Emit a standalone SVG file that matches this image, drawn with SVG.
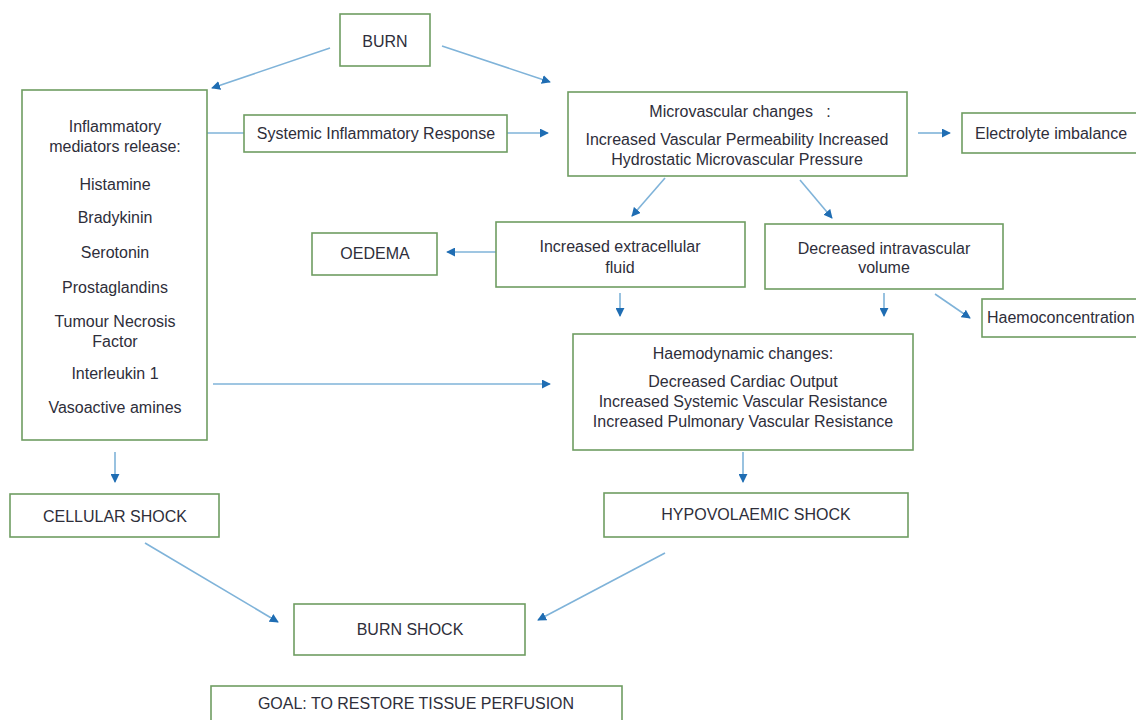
<svg xmlns="http://www.w3.org/2000/svg" width="1136" height="720" viewBox="0 0 1136 720">
<style>
.b{fill:#fff;stroke:#6f9d62;stroke-width:1.6}
.t{font-family:"Liberation Sans",Arial,sans-serif;font-size:16px;fill:#2e2e3a;text-anchor:middle}
.s{text-anchor:start}
.c line{stroke:#7fb3d9;stroke-width:1.6}
</style>
<defs>
<marker id="a" viewBox="0 0 10 10" refX="9" refY="5" markerWidth="9" markerHeight="9" markerUnits="userSpaceOnUse" orient="auto">
<path d="M0,0 L10,5 L0,10 z" fill="#1f6db3"/>
</marker>
</defs>
<rect width="1136" height="720" fill="#fff"/>
<g class="c">
<line x1="330" y1="48" x2="212" y2="88" marker-end="url(#a)"/>
<line x1="442" y1="46" x2="550" y2="82" marker-end="url(#a)"/>
<line x1="207" y1="133" x2="244" y2="133"/>
<line x1="507" y1="133" x2="548" y2="133" marker-end="url(#a)"/>
<line x1="918" y1="133" x2="950" y2="133" marker-end="url(#a)"/>
<line x1="665" y1="178" x2="632" y2="216" marker-end="url(#a)"/>
<line x1="800" y1="180" x2="832" y2="218" marker-end="url(#a)"/>
<line x1="496" y1="252" x2="447" y2="252" marker-end="url(#a)"/>
<line x1="620" y1="293" x2="620" y2="316" marker-end="url(#a)"/>
<line x1="884" y1="293" x2="884" y2="316" marker-end="url(#a)"/>
<line x1="935" y1="294" x2="970" y2="318" marker-end="url(#a)"/>
<line x1="213" y1="384" x2="550" y2="384" marker-end="url(#a)"/>
<line x1="743" y1="452" x2="743" y2="482" marker-end="url(#a)"/>
<line x1="115" y1="452" x2="115" y2="482" marker-end="url(#a)"/>
<line x1="145" y1="543" x2="278" y2="622" marker-end="url(#a)"/>
<line x1="665" y1="553" x2="538" y2="620" marker-end="url(#a)"/>
</g>
<g id="burn"><rect class="b" x="340" y="14" width="90" height="52"/><text class="t" x="385" y="47">BURN</text></g>
<g id="inflammatory"><rect class="b" x="22" y="90" width="185" height="350"/>
<text class="t" x="115" y="132">Inflammatory</text>
<text class="t" x="115" y="152">mediators release:</text>
<text class="t" x="115" y="190">Histamine</text>
<text class="t" x="115" y="223">Bradykinin</text>
<text class="t" x="115" y="258">Serotonin</text>
<text class="t" x="115" y="293">Prostaglandins</text>
<text class="t" x="115" y="327">Tumour Necrosis</text>
<text class="t" x="115" y="347">Factor</text>
<text class="t" x="115" y="379">Interleukin 1</text>
<text class="t" x="115" y="413">Vasoactive amines</text>
</g>
<g id="sir"><rect class="b" x="244" y="115" width="263" height="37"/><text class="t" x="376" y="139">Systemic Inflammatory Response</text></g>
<g id="micro"><rect class="b" x="568" y="92" width="339" height="84"/>
<text class="t" x="740" y="117">Microvascular changes &#160;&#160;:</text>
<text class="t" x="737" y="145">Increased Vascular Permeability Increased</text>
<text class="t" x="737" y="165">Hydrostatic Microvascular Pressure</text>
</g>
<g id="electrolyte"><rect class="b" x="962" y="113" width="180" height="40"/><text class="t s" x="975" y="139">Electrolyte imbalance</text></g>
<g id="oedema"><rect class="b" x="312" y="233" width="125" height="42"/><text class="t" x="375" y="259">OEDEMA</text></g>
<g id="ief"><rect class="b" x="496" y="222" width="249" height="65"/>
<text class="t" x="620" y="252">Increased extracellular</text>
<text class="t" x="620" y="273">fluid</text>
</g>
<g id="div"><rect class="b" x="765" y="224" width="238" height="65"/>
<text class="t" x="884" y="254">Decreased intravascular</text>
<text class="t" x="884" y="273">volume</text>
</g>
<g id="haemoconc"><rect class="b" x="982" y="299" width="160" height="38"/><text class="t s" x="987" y="323">Haemoconcentration</text></g>
<g id="haemodynamic"><rect class="b" x="573" y="334" width="340" height="116"/>
<text class="t" x="743" y="359">Haemodynamic changes:</text>
<text class="t" x="743" y="387">Decreased Cardiac Output</text>
<text class="t" x="743" y="407">Increased Systemic Vascular Resistance</text>
<text class="t" x="743" y="427">Increased Pulmonary Vascular Resistance</text>
</g>
<g id="cellular"><rect class="b" x="10" y="494" width="209" height="43"/><text class="t" x="115" y="522">CELLULAR SHOCK</text></g>
<g id="hypo"><rect class="b" x="604" y="493" width="304" height="44"/><text class="t" x="756" y="520">HYPOVOLAEMIC SHOCK</text></g>
<g id="burnshock"><rect class="b" x="294" y="604" width="231" height="51"/><text class="t" x="410" y="635">BURN SHOCK</text></g>
<g id="goal"><rect class="b" x="211" y="686" width="411" height="40"/><text class="t" x="416" y="709">GOAL: TO RESTORE TISSUE PERFUSION</text></g>
</svg>
